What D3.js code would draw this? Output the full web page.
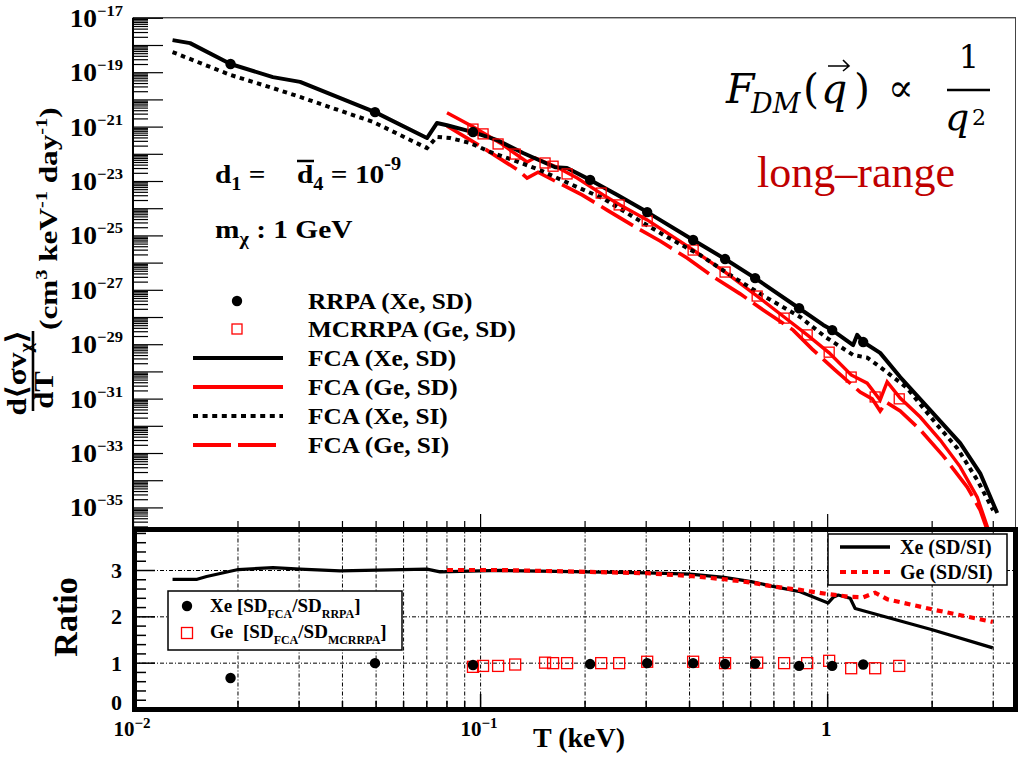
<!DOCTYPE html>
<html><head><meta charset="utf-8">
<script src="https://cdn.jsdelivr.net/npm/d3@7"></script>
<style>
html,body{margin:0;padding:0;background:#fff;}
</style></head><body>
<svg id="chart" width="1025" height="757" font-family="'Liberation Serif','Times New Roman',serif" font-weight="bold"></svg>
<script>
// ---------- differential rate, FCA Xe (spin-dependent) ----------
const xeSD_T = [0.0130, 0.0146, 0.0191, 0.0253, 0.0303, 0.0498, 0.0703, 0.0751, 0.0803, 0.0954, 0.112, 0.133, 0.1645, 0.178, 0.2075, 0.248, 0.303, 0.411, 0.508, 0.620, 0.830, 0.974, 1.034, 1.188, 1.220, 1.270, 1.421, 1.623, 1.981, 2.417, 2.760, 3.09];
const xeSD_V = [1.51e-18, 1.17e-18, 2.0e-19, 6.6e-20, 4.4e-20, 3.4e-21, 3.8e-22, 1.35e-21, 1.12e-21, 6.3e-22, 3.2e-22, 1.07e-22, 3.2e-23, 3.0e-23, 1.10e-23, 3.1e-24, 7.2e-25, 6.8e-26, 1.35e-26, 2.7e-27, 2.1e-28, 5.1e-29, 3.3e-29, 9.3e-30, 2.2e-29, 1.2e-29, 4.8e-30, 6.2e-31, 3.8e-32, 2.3e-33, 1.8e-34, 6.2e-36];

// ---------- FCA Xe (spin-independent) ----------
const xeSI_T = [0.0130, 0.0191, 0.0253, 0.0303, 0.0492, 0.0703, 0.0751, 0.0819, 0.0936, 0.1069, 0.1245, 0.1489, 0.1667, 0.1904, 0.2262, 0.2760, 0.3459, 0.4305, 0.5360, 0.6718, 0.8359, 0.990, 1.188, 1.304, 1.421, 1.700, 2.075, 2.37, 2.706, 3.008];
const xeSI_V = [5.5e-19, 7.9e-20, 2.6e-20, 1.23e-20, 1.48e-21, 1.62e-22, 4.2e-22, 3.8e-22, 2.5e-22, 1.17e-22, 5.9e-23, 2.5e-23, 1.29e-23, 6.0e-24, 2.3e-24, 4.8e-25, 8.7e-26, 1.9e-26, 2.95e-27, 5.0e-28, 1.0e-28, 1.82e-29, 4.0e-30, 3.2e-30, 1.45e-30, 2.45e-31, 1.07e-32, 1.51e-33, 1.02e-34, 7.9e-36];

// ---------- FCA Ge (spin-dependent) ----------
const geSD_T = [0.0803, 0.0954, 0.1142, 0.1366, 0.1440, 0.1667, 0.1904, 0.2262, 0.2532, 0.3030, 0.4110, 0.5083, 0.6285, 0.7516, 0.8758, 1.0134, 1.1727, 1.304, 1.421, 1.489, 1.623, 1.854, 2.117, 2.417, 2.706, 3.0];
const geSD_V = [3.2e-21, 9.8e-22, 2.5e-22, 5.0e-23, 7.1e-23, 3.2e-23, 1.29e-23, 3.1e-24, 1.32e-24, 3.7e-25, 2.9e-26, 4.5e-27, 5.9e-28, 1.0e-28, 2.2e-29, 4.8e-30, 7.4e-31, 3.7e-31, 8.9e-32, 4.1e-31, 1.05e-31, 2.1e-32, 3.0e-33, 3.1e-34, 2.4e-35, 5.0e-37];

// ---------- FCA Ge (spin-independent) ----------
const geSI_T = [0.0803, 0.100, 0.1287, 0.1366, 0.1469, 0.1667, 0.1967, 0.2323, 0.2835, 0.3302, 0.3948, 0.4755, 0.5614, 0.6540, 0.7981, 0.9054, 1.0546, 1.2446, 1.348, 1.421, 1.479, 1.623, 1.854, 2.159, 2.532, 2.760, 3.0];
const geSI_V = [1.05e-21, 1.95e-22, 2.5e-23, 1.29e-23, 2.1e-23, 9.1e-24, 3.1e-24, 8.5e-25, 1.86e-25, 6.2e-26, 1.48e-26, 2.7e-27, 7.1e-28, 1.82e-28, 3.3e-29, 6.6e-30, 1.12e-30, 1.74e-31, 9.8e-32, 3.5e-32, 7.4e-32, 3.5e-32, 7.1e-33, 7.9e-34, 5.6e-35, 7.9e-36, 4.0e-37];

// ---------- ab initio points ----------
const rrpaT = [0.0191, 0.0498, 0.0954, 0.2075, 0.303, 0.411, 0.508, 0.620, 0.830, 1.034, 1.270];
const rrpaV = [2.0e-19, 3.4e-21, 6.3e-22, 1.10e-23, 7.2e-25, 6.8e-26, 1.35e-26, 2.7e-27, 2.1e-28, 3.3e-29, 1.2e-29];
const mcrrpaT = [0.0954, 0.102, 0.1127, 0.1262, 0.1539, 0.1623, 0.1781, 0.2233, 0.2516, 0.303, 0.411, 0.508, 0.6285, 0.7516, 0.8758, 1.0134, 1.1727, 1.375, 1.613];
const mcrrpaV = [8.1e-22, 5.4e-22, 2.3e-22, 9.8e-23, 4.6e-23, 3.5e-23, 1.82e-23, 3.6e-24, 1.32e-24, 3.4e-25, 2.9e-26, 4.5e-27, 5.9e-28, 9.1e-29, 2.2e-29, 5.1e-30, 6.2e-31, 1.15e-31, 9.8e-32];

// ---------- ratio panel ----------
const ratioXeT = [0.0130, 0.0153, 0.0163, 0.0201, 0.0253, 0.0303, 0.0395, 0.0703, 0.0767, 0.1142, 0.2034, 0.303, 0.4028, 0.5049, 0.6039, 0.7035, 0.8359, 1.0067, 1.0406, 1.0758, 1.165, 1.204, 2.007, 3.0];
const ratioXeV = [2.80, 2.80, 2.86, 3.01, 3.05, 3.02, 2.98, 3.02, 2.96, 2.99, 2.96, 2.94, 2.91, 2.84, 2.75, 2.64, 2.53, 2.29, 2.41, 2.46, 2.39, 2.17, 1.71, 1.32];
const ratioGeT = [0.0803, 0.1142, 0.2034, 0.303, 0.4028, 0.5049, 0.6039, 0.7035, 0.8359, 1.0067, 1.165, 1.270, 1.375, 1.489, 2.007, 3.0];
const ratioGeV = [3.0, 3.0, 2.96, 2.93, 2.87, 2.80, 2.73, 2.64, 2.57, 2.48, 2.42, 2.41, 2.51, 2.37, 2.15, 1.88];
const ratioRrpaV = [0.67, 0.99, 0.95, 0.97, 0.99, 0.99, 0.97, 0.98, 0.93, 0.93, 0.96];
const ratioMcrrpaV = [0.91, 0.93, 0.93, 0.96, 1.0, 0.99, 0.99, 0.99, 0.99, 1.02, 1.02, 0.99, 1.0, 0.99, 0.99, 1.04, 0.88, 0.88, 0.93];

// ---------- tick labels ----------
const topTickExps = [-17, -19, -21, -23, -25, -27, -29, -31, -33, -35];
const xTickValues = [0.01, 0.1, 1];
const xTickBase = ["10", "10", "1"];
const xTickExp = ["\u22122", "\u22121", ""];
const ratioTickValues = [0, 1, 2, 3];

const legendTopLabels = ["RRPA (Xe, SD)", "MCRRPA (Ge, SD)", "FCA (Xe, SD)", "FCA (Ge, SD)", "FCA (Xe, SI)", "FCA (Ge, SI)"];

// ---------- layout ----------
const W = 1025, H = 757;
const PL = 133, PR = 1016;
const TT = 17.8, TB = 527;
const BT = 529.5, BB = 709;
const MATH = "'DejaVu Serif', serif";

const svg = d3.select("#chart");
svg.append("rect").attr("width", W).attr("height", H).attr("fill", "#fff");

const x = d3.scaleLog().domain([0.01, 3.5]).range([PL, PR]);
const yTop = d3.scaleLog().domain([Math.pow(10, -35.72), 1e-17]).range([TB, TT]);
const yBot = d3.scaleLinear().domain([0, 3.9]).range([BB, BB - 3.9 * 46.33]);

const defs = svg.append("defs");
defs.append("clipPath").attr("id", "clipTop").append("rect")
  .attr("x", PL).attr("y", TT).attr("width", PR - PL).attr("height", TB - TT);
defs.append("clipPath").attr("id", "clipBot").append("rect")
  .attr("x", PL).attr("y", BT).attr("width", PR - PL).attr("height", BB - BT);

const zip = (a, b) => a.map((t, i) => ({ t, v: b[i] }));

// text placed at (px,py), widened horizontally by sx (wide Times-style lettering)
function wideText(parent, px, py, size, sx, anchor) {
  return parent.append("text")
    .attr("transform", `translate(${px},${py}) scale(${sx},1)`)
    .attr("text-anchor", anchor || "start")
    .attr("font-size", size);
}

// tick value sets
const xMinor = [], xMajor = [];
for (let d = -2; d <= 0; d++) for (let k = 1; k <= 9; k++) {
  const v = k * Math.pow(10, d);
  if (v > 3.5) continue;
  (k === 1 ? xMajor : xMinor).push(v);
}
const yMinor = [], yMajor = [];
for (let d = -36; d <= -17; d++) for (let k = 1; k <= 9; k++) {
  const v = k * Math.pow(10, d);
  const lv = Math.log10(v);
  if (lv < -35.72 || lv > -16.999) continue;
  (k === 1 ? yMajor : yMinor).push(v);
}

function styleAxis(g, w) {
  g.select(".domain").remove();
  g.selectAll(".tick line").attr("stroke", "#000").attr("stroke-width", w || 1.2);
  g.selectAll(".tick text").remove();
}

// ================= upper panel =================
svg.append("line").attr("x1", PL).attr("x2", PR).attr("y1", TT).attr("y2", TT).attr("stroke", "#000").attr("stroke-width", 1);
svg.append("line").attr("x1", PR - 0.5).attr("x2", PR - 0.5).attr("y1", TT).attr("y2", TB).attr("stroke", "#444").attr("stroke-width", 1);
svg.append("line").attr("x1", PL).attr("x2", PL).attr("y1", TT).attr("y2", TB).attr("stroke", "#000").attr("stroke-width", 2);

svg.append("g").attr("transform", `translate(${PL},0)`)
  .call(d3.axisRight(yTop).tickValues(yMajor).tickSize(30).tickFormat(""))
  .call(g => styleAxis(g, 1.2));
svg.append("g").attr("transform", `translate(${PL},0)`)
  .call(d3.axisRight(yTop).tickValues(yMinor).tickSize(15).tickFormat(""))
  .call(g => styleAxis(g, 1.2));

svg.append("g").attr("transform", `translate(0,${TB})`)
  .call(d3.axisTop(x).tickValues(xMajor).tickSize(13).tickFormat(""))
  .call(g => styleAxis(g, 1.2));
svg.append("g").attr("transform", `translate(0,${TB})`)
  .call(d3.axisTop(x).tickValues(xMinor).tickSize(6).tickFormat(""))
  .call(g => styleAxis(g, 1.2));

// y tick labels 10^n
topTickExps.forEach(e => {
  const yy = yTop(Math.pow(10, e));
  const t = wideText(svg, 123, yy + 9, 25, 1.1, "end");
  t.append("tspan").text("10");
  t.append("tspan").attr("dy", -11).attr("font-size", 15).text("\u2212" + (-e));
});

// y axis title
const yl = svg.append("g").attr("transform", "rotate(-90)");
const num = wideText(yl, -373, 26, 28, 1.12, "middle");
num.append("tspan").text("d\u27E8\u03C3v");
num.append("tspan").attr("dy", 6).attr("font-size", 18).text("\u03C7");
num.append("tspan").attr("dy", -6).text("\u27E9");
yl.append("line").attr("x1", -411).attr("x2", -331).attr("y1", 33).attr("y2", 33).attr("stroke", "#000").attr("stroke-width", 2.6);
wideText(yl, -390, 53, 28, 1.1, "middle").text("dT");
const unit = wideText(yl, -330, 57, 26, 1.2, "start");
unit.append("tspan").text("(cm");
unit.append("tspan").attr("dy", -10).attr("font-size", 17).text("3");
unit.append("tspan").attr("dy", 10).text(" keV");
unit.append("tspan").attr("dy", -10).attr("font-size", 17).text("-1");
unit.append("tspan").attr("dy", 10).text(" day");
unit.append("tspan").attr("dy", -10).attr("font-size", 17).text("-1");
unit.append("tspan").attr("dy", 10).text(")");

// curves
const lineTop = d3.line().x(d => x(d.t)).y(d => yTop(d.v));
const gTop = svg.append("g").attr("clip-path", "url(#clipTop)");
gTop.append("path").datum(zip(geSI_T, geSI_V)).attr("d", lineTop)
  .attr("fill", "none").attr("stroke", "#ff0000").attr("stroke-width", 3.6).attr("stroke-dasharray", "37,8");
gTop.append("path").datum(zip(geSD_T, geSD_V)).attr("d", lineTop)
  .attr("fill", "none").attr("stroke", "#ff0000").attr("stroke-width", 3.4);
gTop.append("path").datum(zip(xeSI_T, xeSI_V)).attr("d", lineTop)
  .attr("fill", "none").attr("stroke", "#000").attr("stroke-width", 4).attr("stroke-dasharray", "4.5,4.5");
gTop.append("path").datum(zip(xeSD_T, xeSD_V)).attr("d", lineTop)
  .attr("fill", "none").attr("stroke", "#000").attr("stroke-width", 4).attr("stroke-linejoin", "round");

gTop.selectAll(".sq").data(zip(mcrrpaT, mcrrpaV)).enter().append("rect")
  .attr("x", d => x(d.t) - 5).attr("y", d => yTop(d.v) - 5).attr("width", 10).attr("height", 10)
  .attr("fill", "none").attr("stroke", "#ff0000").attr("stroke-width", 1.3);
gTop.selectAll(".dot").data(zip(rrpaT, rrpaV)).enter().append("circle")
  .attr("cx", d => x(d.t)).attr("cy", d => yTop(d.v)).attr("r", 5.2).attr("fill", "#000");

// parameter annotations
const a1 = wideText(svg, 215, 183, 26, 1.13);
a1.append("tspan").text("d");
a1.append("tspan").attr("dy", 7).attr("font-size", 18).text("1");
a1.append("tspan").attr("dy", -7).text(" =");
const a2 = wideText(svg, 297, 183, 26, 1.13);
a2.append("tspan").text("d");
a2.append("tspan").attr("dy", 7).attr("font-size", 18).text("4");
a2.append("tspan").attr("dy", -7).text(" =  10");
a2.append("tspan").attr("dy", -13).attr("font-size", 18).text("-9");
svg.append("line").attr("x1", 297).attr("x2", 314).attr("y1", 161).attr("y2", 161).attr("stroke", "#000").attr("stroke-width", 2.5);
const a3 = wideText(svg, 215, 238, 26, 1.13);
a3.append("tspan").text("m");
a3.append("tspan").attr("dy", 7).attr("font-size", 18).text("\u03C7");
a3.append("tspan").attr("dy", -7).text(" :  1 GeV");

// legend of the upper panel
const legY = [301, 329, 358, 387, 416, 445];
const lg = svg.append("g");
lg.append("circle").attr("cx", 237).attr("cy", legY[0]).attr("r", 5.2).attr("fill", "#000");
lg.append("rect").attr("x", 232).attr("y", legY[1] - 5).attr("width", 10).attr("height", 10)
  .attr("fill", "none").attr("stroke", "#ff0000").attr("stroke-width", 1.3);
lg.append("line").attr("x1", 193).attr("x2", 283).attr("y1", legY[2]).attr("y2", legY[2]).attr("stroke", "#000").attr("stroke-width", 4);
lg.append("line").attr("x1", 193).attr("x2", 283).attr("y1", legY[3]).attr("y2", legY[3]).attr("stroke", "#ff0000").attr("stroke-width", 4);
lg.append("line").attr("x1", 193).attr("x2", 283).attr("y1", legY[4]).attr("y2", legY[4]).attr("stroke", "#000").attr("stroke-width", 4).attr("stroke-dasharray", "5,4.6");
lg.append("line").attr("x1", 193).attr("x2", 276).attr("y1", legY[5]).attr("y2", legY[5]).attr("stroke", "#ff0000").attr("stroke-width", 4).attr("stroke-dasharray", "38,7");
legendTopLabels.forEach((s, i) => {
  wideText(lg, 308, legY[i] + 8, 23, 1.1).text(s);
});

// form factor annotation
const ff = svg.append("g").attr("font-family", MATH).attr("font-weight", "normal");
ff.append("text").attr("x", 726).attr("y", 103).attr("font-size", 41).attr("font-style", "italic").text("F");
ff.append("text").attr("x", 751).attr("y", 113).attr("font-size", 27).attr("font-style", "italic").text("DM");
ff.append("text").attr("x", 803).attr("y", 103).attr("font-size", 41).text("(");
ff.append("text").attr("x", 821).attr("y", 103).attr("font-size", 41).attr("font-style", "italic").text("q");
ff.append("text").attr("x", 854).attr("y", 103).attr("font-size", 41).text(")");
ff.append("path").attr("d", "M828,66 L849,66 M843,60 L849,66 L843,71").attr("fill", "none").attr("stroke", "#000").attr("stroke-width", 1.6);
ff.append("text").attr("x", 888).attr("y", 101).attr("font-size", 38).text("\u221D");
ff.append("text").attr("x", 969).attr("y", 68).attr("text-anchor", "middle").attr("font-size", 32).text("1");
ff.append("line").attr("x1", 947).attr("x2", 990).attr("y1", 90).attr("y2", 90).attr("stroke", "#000").attr("stroke-width", 2.6);
ff.append("text").attr("x", 945).attr("y", 130).attr("font-size", 38).attr("font-style", "italic").text("q");
ff.append("text").attr("x", 972).attr("y", 125).attr("font-size", 22).text("2");
svg.append("text").attr("x", 757).attr("y", 187).attr("font-size", 44).attr("font-weight", "normal")
  .attr("fill", "#c00000").text("long\u2013range");

// ================= ratio panel =================
svg.append("g").attr("transform", `translate(0,${BT})`)
  .call(d3.axisBottom(x).tickValues(xMajor.concat(xMinor)).tickSize(BB - BT).tickFormat(""))
  .call(g => { styleAxis(g, 1); g.selectAll(".tick line").attr("stroke-dasharray", "4,2,1,2"); });
svg.append("g").attr("transform", `translate(${PL},0)`)
  .call(d3.axisRight(yBot).tickValues([1, 2, 3]).tickSize(PR - PL).tickFormat(""))
  .call(g => { styleAxis(g, 1); g.selectAll(".tick line").attr("stroke-dasharray", "4,2,1,2"); });

svg.append("g").attr("transform", `translate(0,${BB})`)
  .call(d3.axisTop(x).tickValues(xMinor).tickSize(8).tickFormat(""))
  .call(g => styleAxis(g, 1.5));
svg.append("g").attr("transform", `translate(0,${BB})`)
  .call(d3.axisTop(x).tickValues(xMajor).tickSize(15).tickFormat(""))
  .call(g => styleAxis(g, 1.5));
const rMinor = d3.range(1, 20).map(i => i * 0.2).filter(v => Math.abs(v - Math.round(v)) > 1e-6 && v < 3.9);
svg.append("g").attr("transform", `translate(${PL},0)`)
  .call(d3.axisRight(yBot).tickValues(rMinor).tickSize(13).tickFormat(""))
  .call(g => styleAxis(g, 1.5));
svg.append("g").attr("transform", `translate(${PL},0)`)
  .call(d3.axisRight(yBot).tickValues([1, 2, 3]).tickSize(22).tickFormat(""))
  .call(g => styleAxis(g, 1.5));

const lineBot = d3.line().x(d => x(d.t)).y(d => yBot(d.v));
const gBot = svg.append("g").attr("clip-path", "url(#clipBot)");
gBot.append("path").datum(zip(ratioXeT, ratioXeV)).attr("d", lineBot)
  .attr("fill", "none").attr("stroke", "#000").attr("stroke-width", 3.2).attr("stroke-linejoin", "round");
gBot.append("path").datum(zip(ratioGeT, ratioGeV)).attr("d", lineBot)
  .attr("fill", "none").attr("stroke", "#ff0000").attr("stroke-width", 4.2).attr("stroke-dasharray", "6,5");
gBot.selectAll(".rsq").data(zip(mcrrpaT, ratioMcrrpaV)).enter().append("rect")
  .attr("x", d => x(d.t) - 5.5).attr("y", d => yBot(d.v) - 5.5).attr("width", 11).attr("height", 11)
  .attr("fill", "none").attr("stroke", "#ff0000").attr("stroke-width", 1.3);
gBot.selectAll(".rdot").data(zip(rrpaT, ratioRrpaV)).enter().append("circle")
  .attr("cx", d => x(d.t)).attr("cy", d => yBot(d.v)).attr("r", 5.2).attr("fill", "#000");

// legends of the ratio panel
const lb1 = svg.append("g");
lb1.append("rect").attr("x", 168).attr("y", 591).attr("width", 234).attr("height", 59)
  .attr("fill", "#fff").attr("stroke", "#000").attr("stroke-width", 1.5);
lb1.append("circle").attr("cx", 187).attr("cy", 606).attr("r", 5.2).attr("fill", "#000");
lb1.append("rect").attr("x", 181.5).attr("y", 627.5).attr("width", 11).attr("height", 11)
  .attr("fill", "none").attr("stroke", "#ff0000").attr("stroke-width", 1.3);
const t1 = lb1.append("text").attr("x", 210).attr("y", 612).attr("font-size", 19);
t1.append("tspan").text("Xe [SD");
t1.append("tspan").attr("dy", 6).attr("font-size", 12).text("FCA");
t1.append("tspan").attr("dy", -6).text("/SD");
t1.append("tspan").attr("dy", 6).attr("font-size", 12).text("RRPA");
t1.append("tspan").attr("dy", -6).text("]");
const t2 = lb1.append("text").attr("x", 210).attr("y", 638).attr("font-size", 19);
t2.append("tspan").text("Ge");
t2.append("tspan").attr("x", 243).text("[SD");
t2.append("tspan").attr("dy", 6).attr("font-size", 12).text("FCA");
t2.append("tspan").attr("dy", -6).text("/SD");
t2.append("tspan").attr("dy", 6).attr("font-size", 12).text("MCRRPA");
t2.append("tspan").attr("dy", -6).text("]");

const lb2 = svg.append("g");
lb2.append("rect").attr("x", 828).attr("y", 534).attr("width", 179).attr("height", 51)
  .attr("fill", "#fff").attr("stroke", "#000").attr("stroke-width", 1.5);
lb2.append("line").attr("x1", 840).attr("x2", 890).attr("y1", 547).attr("y2", 547).attr("stroke", "#000").attr("stroke-width", 3.6);
lb2.append("line").attr("x1", 840).attr("x2", 890).attr("y1", 572).attr("y2", 572).attr("stroke", "#ff0000").attr("stroke-width", 4.2).attr("stroke-dasharray", "6,5");
lb2.append("text").attr("x", 900).attr("y", 554).attr("font-size", 20).text("Xe (SD/SI)");
lb2.append("text").attr("x", 900).attr("y", 579).attr("font-size", 20).text("Ge (SD/SI)");

// thick frame
svg.append("rect").attr("x", 134.5).attr("y", BT).attr("width", 1015.5 - 134.5).attr("height", BB + 0.5 - BT)
  .attr("fill", "none").attr("stroke", "#000").attr("stroke-width", 5);

// ratio axis labels
ratioTickValues.forEach(v => {
  const yy = v === 0 ? 710 : yBot(v) + 8;
  svg.append("text").attr("x", 122).attr("y", yy).attr("text-anchor", "end").attr("font-size", 22).text(v);
});
xTickValues.forEach((v, i) => {
  const t = svg.append("text").attr("x", x(v) - 1).attr("y", 736).attr("text-anchor", "middle").attr("font-size", 21);
  t.append("tspan").text(xTickBase[i]);
  if (xTickExp[i]) t.append("tspan").attr("dy", -8).attr("font-size", 15).text(xTickExp[i]);
});
svg.append("text").attr("x", 533).attr("y", 747).attr("font-size", 28).text("T (keV)");
svg.append("text").attr("transform", "translate(77,617) rotate(-90)").attr("text-anchor", "middle")
  .attr("font-size", 34).text("Ratio");
</script>
</body></html>
